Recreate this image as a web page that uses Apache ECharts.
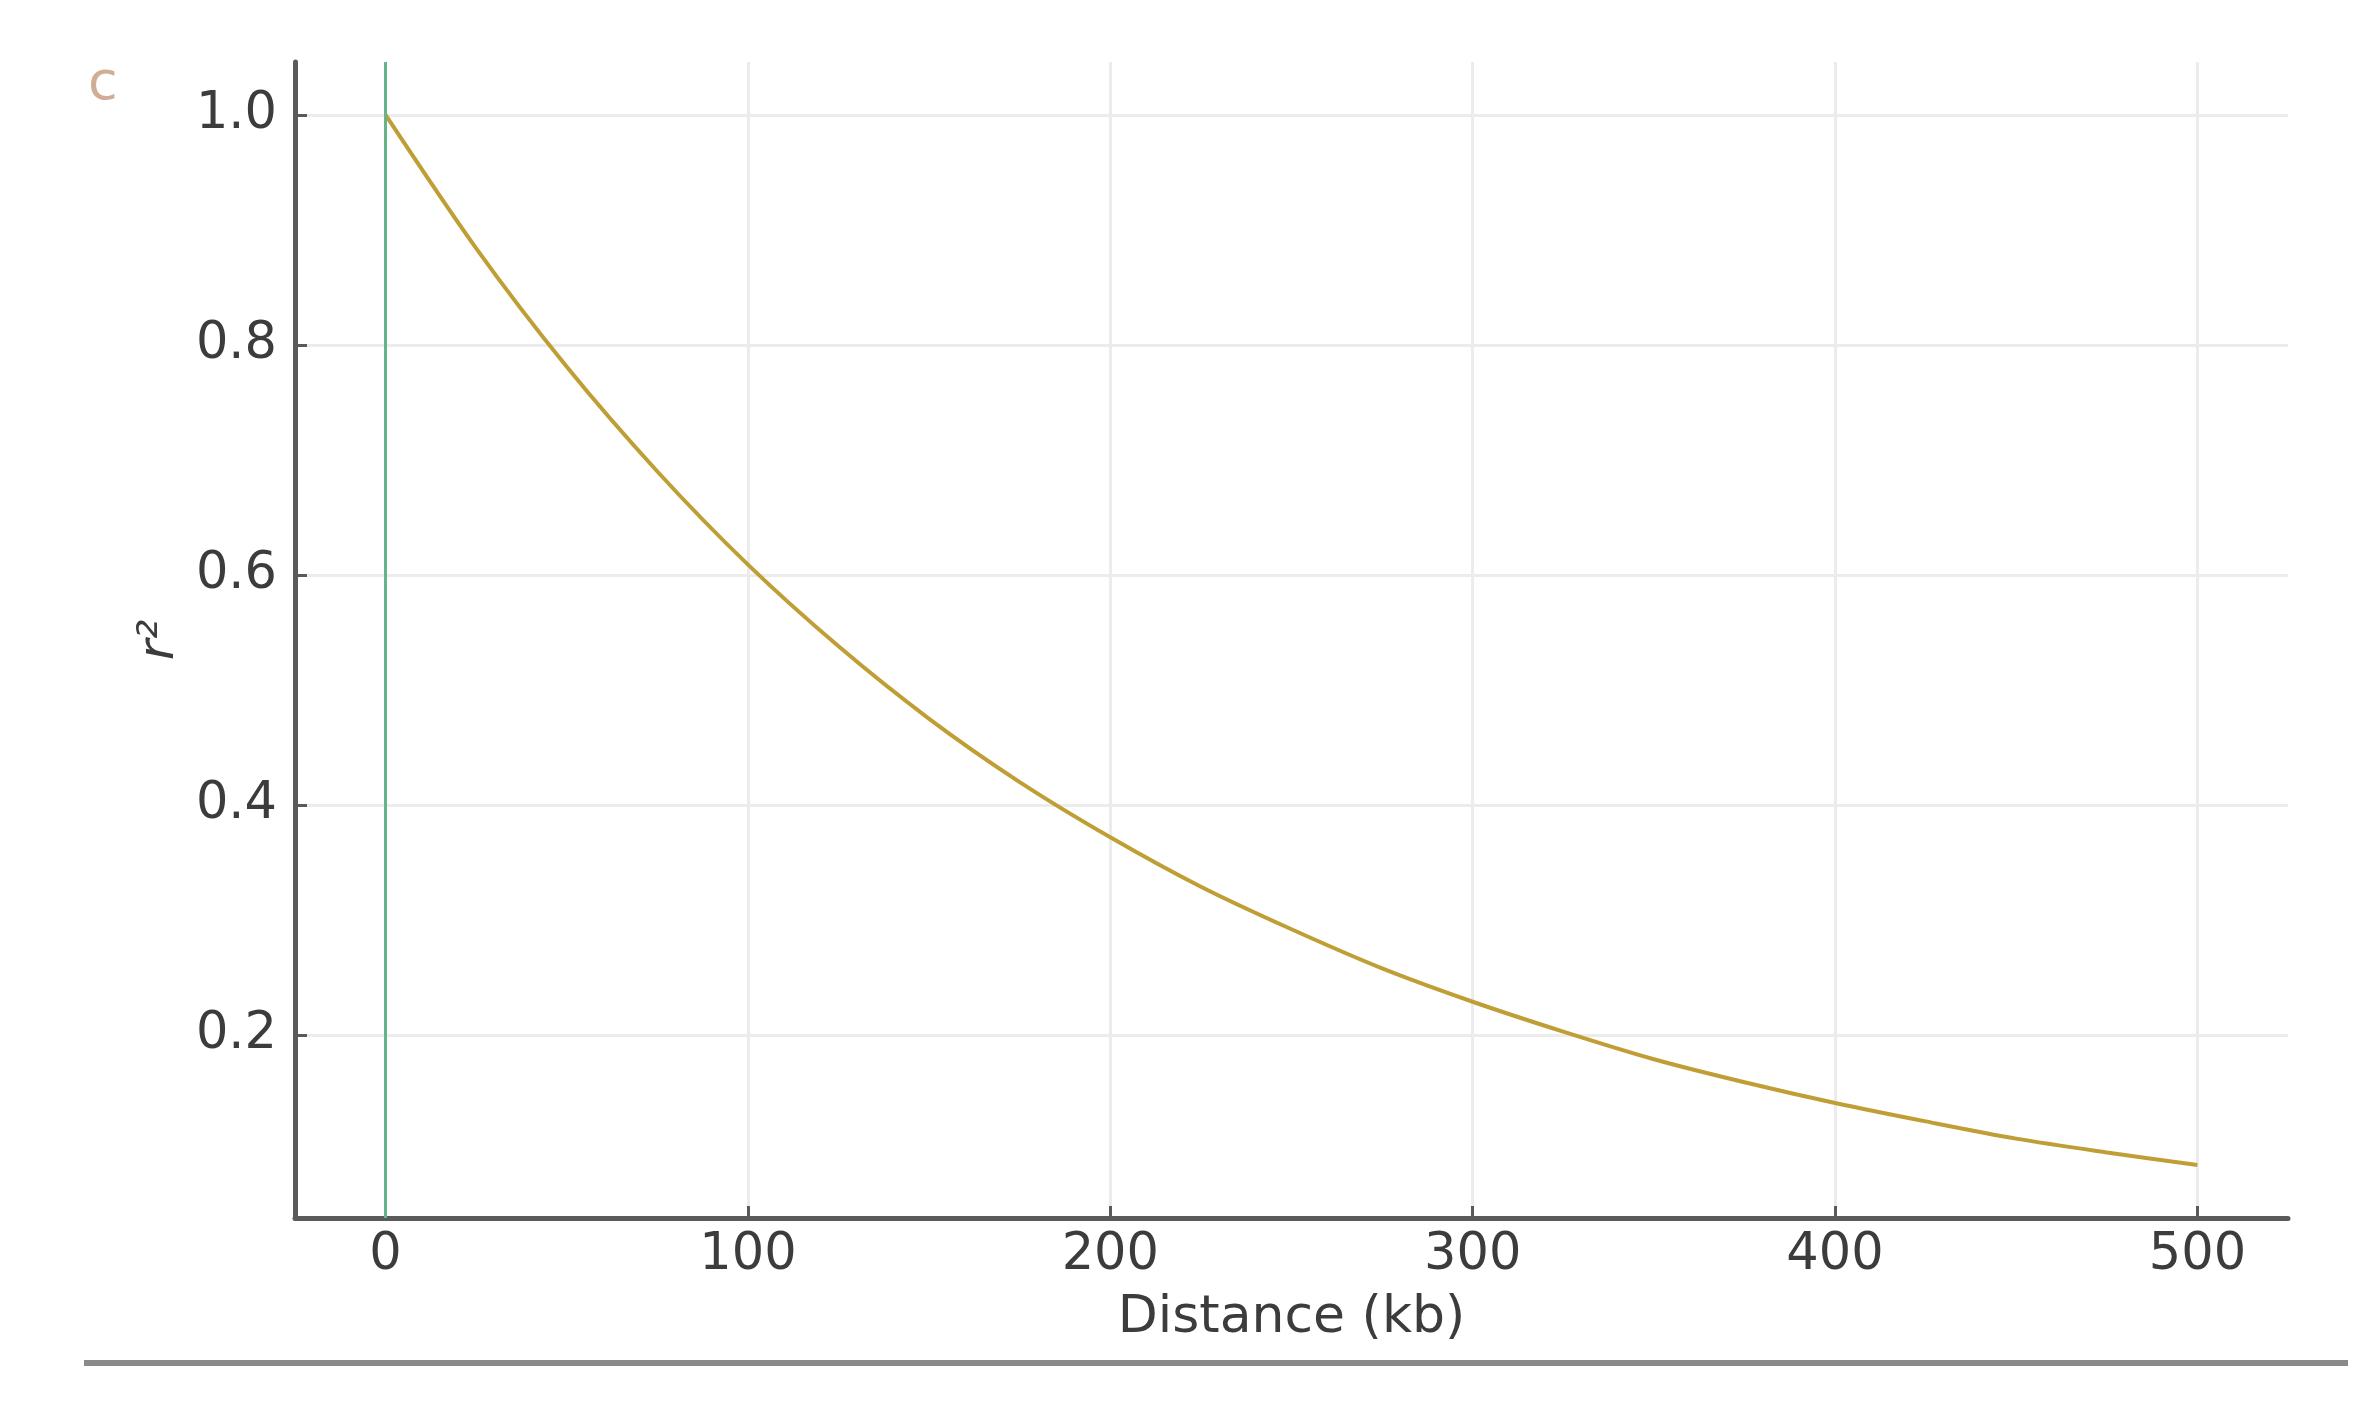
<!DOCTYPE html>
<html>
<head>
<meta charset="utf-8">
<script src="https://cdn.jsdelivr.net/npm/echarts@6/dist/echarts.min.js"></script>
<style>
html,body{margin:0;padding:0;background:#fff;}
#chart{width:2368px;height:1408px;}
</style>
</head>
<body>
<div id="chart"></div>
<script>
const distanceKb = [0,25,50,75,100,125,150,175,200,225,250,275,300,325,350,375,400,425,450,475,500];
const r2Values = [1.0,0.884,0.781,0.69,0.609,0.538,0.475,0.42,0.372,0.329,0.292,0.258,0.229,0.203,0.179,0.159,0.141,0.125,0.110,0.098,0.087];
const vlineX = [0];
const xRange = [-25, 525];
const yRange = [0.041, 1.046];
const panelLetter = 'c';
const xAxisTitle = 'Distance (kb)';
const yAxisTitle = 'r²';

const FONT = 'DejaVu Sans';
const chart = echarts.init(document.getElementById('chart'));
chart.setOption({
  backgroundColor: '#ffffff',
  animation: false,
  grid: {left: 295, right: 80, top: 62, bottom: 190, containLabel: false},
  graphic: [
    {type: 'text', left: 88, top: 58, style: {text: panelLetter, font: '54px "DejaVu Sans"', fill: '#d0ae96'}},
    {type: 'rect', shape: {x: 84, y: 1360, width: 2264, height: 6}, style: {fill: '#8a8a8a'}}
  ],
  xAxis: {
    type: 'value', min: xRange[0], max: xRange[1], splitNumber: 5, minInterval: 100, maxInterval: 100,
    name: xAxisTitle, nameLocation: 'middle', nameGap: 74,
    nameTextStyle: {fontFamily: FONT, fontSize: 52, color: '#3c3c3c'},
    axisLine: {show: true, onZero: false, lineStyle: {color: '#5a5a5a', width: 5}},
    axisTick: {show: true, inside: true, length: 12, lineStyle: {color: '#5a5a5a', width: 3}},
    axisLabel: {fontFamily: FONT, fontSize: 51, color: '#3c3c3c', margin: 12, showMinLabel: false, showMaxLabel: false},
    splitLine: {show: true, showMinLine: false, showMaxLine: false, lineStyle: {color: '#ececec', width: 3}}
  },
  yAxis: {
    type: 'value', min: yRange[0], max: yRange[1], splitNumber: 5, minInterval: 0.2, maxInterval: 0.2,
    name: yAxisTitle, nameLocation: 'middle', nameGap: 110, nameRotate: 90,
    nameTextStyle: {fontFamily: FONT, fontSize: 50, color: '#3c3c3c', fontStyle: 'italic'},
    axisLine: {show: true, onZero: false, lineStyle: {color: '#5a5a5a', width: 5}},
    axisTick: {show: true, inside: true, length: 12, lineStyle: {color: '#5a5a5a', width: 3}},
    axisLabel: {fontFamily: FONT, fontSize: 51, color: '#3c3c3c', margin: 18, showMinLabel: false, showMaxLabel: false,
      formatter: v => v.toFixed(1)},
    splitLine: {show: true, showMinLine: false, showMaxLine: false, lineStyle: {color: '#ececec', width: 3}}
  },
  series: [{
    type: 'line',
    data: distanceKb.map((d, i) => [d, r2Values[i]]),
    smooth: 0.3,
    showSymbol: false,
    lineStyle: {color: '#bf9f35', width: 4},
    markLine: {
      silent: true, symbol: 'none', label: {show: false},
      lineStyle: {color: '#66b58a', width: 3, type: 'solid'},
      data: vlineX.map(x => ({xAxis: x}))
    }
  }]
});
</script>
</body>
</html>
